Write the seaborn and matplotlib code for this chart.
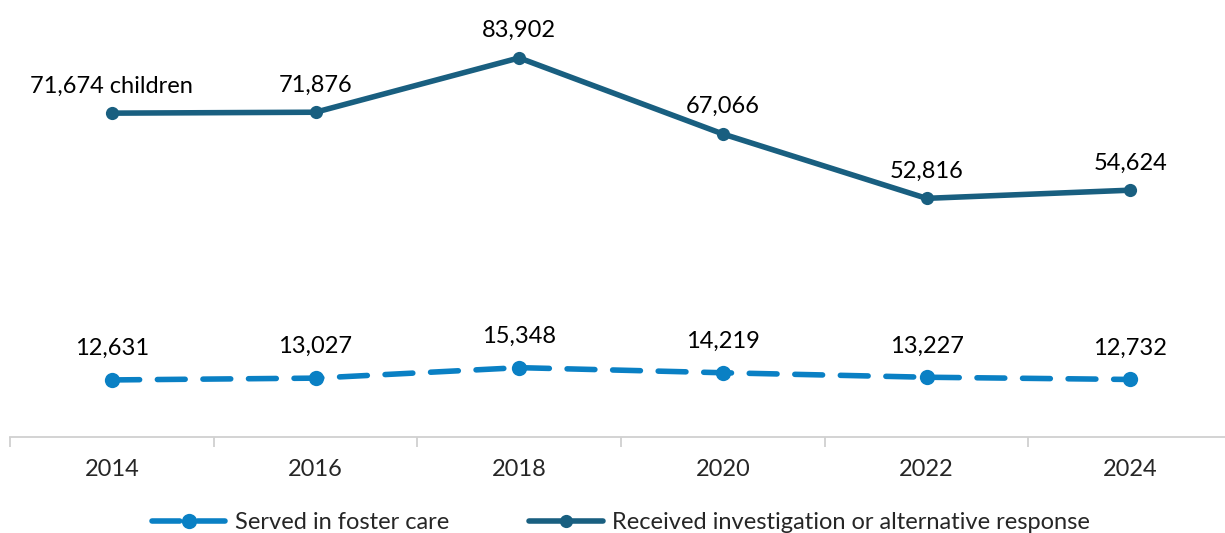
import numpy as np
import pandas as pd
import matplotlib
matplotlib.use("Agg")
import matplotlib.pyplot as plt
import seaborn as sns

years = ["2014", "2016", "2018", "2020", "2022", "2024"]
foster_care = [12631, 13027, 15348, 14219, 13227, 12732]
investigation = [71674, 71876, 83902, 67066, 52816, 54624]
series_names = ["Served in foster care", "Received investigation or alternative response"]

sns.set_style("white")
plt.rcParams["font.family"] = ["Lato", "DejaVu Sans"]

light = "#0a80c4"
dark = "#195f80"
fs = 17

pos = np.arange(len(years))
df = pd.DataFrame({
    "pos": np.concatenate([pos, pos]),
    "value": foster_care + investigation,
    "series": [series_names[0]] * len(years) + [series_names[1]] * len(years),
})

fig = plt.figure(figsize=(12.25, 5.33), dpi=100)
ax = fig.add_axes([10 / 1225, 1 - 437 / 533, 1222 / 1225, 427 / 533])

sns.lineplot(data=df[df.series == series_names[0]], x="pos", y="value", ax=ax,
             color=light, lw=4, marker="o", markersize=11, markeredgewidth=0,
             dashes=False, label=series_names[0])
ax.lines[-1].set_linestyle((0, (5, 3.2)))
ax.lines[-1].set_dash_capstyle("round")
sns.lineplot(data=df[df.series == series_names[1]], x="pos", y="value", ax=ax,
             color=dark, lw=4, marker="o", markersize=9.5, markeredgewidth=0,
             label=series_names[1])

for i, v in enumerate(foster_care):
    ax.annotate(f"{v:,}", (pos[i], v), xytext=(0, 15), textcoords="offset points",
                ha="center", va="bottom", fontsize=fs, color="black")
for i, v in enumerate(investigation):
    txt = f"{v:,} children" if i == 0 else f"{v:,}"
    ax.annotate(txt, (pos[i], v), xytext=(0, 12), textcoords="offset points",
                ha="center", va="bottom", fontsize=fs, color="black")

ax.set_xlim(-0.5, len(years) - 0.5)
ax.set_ylim(0, 94500)
ax.set_xticks(pos)
ax.set_xticklabels(years, fontsize=fs)
ax.set_xticks(np.arange(-0.5, len(years)), minor=True)
ax.tick_params(axis="x", which="major", length=0, pad=16)
ax.tick_params(axis="x", which="minor", length=7, color="#d0d0d0", width=1.3, bottom=True)
ax.set_yticks([])
ax.set_xlabel("")
ax.set_ylabel("")
for s in ["top", "right", "left"]:
    ax.spines[s].set_visible(False)
ax.spines["bottom"].set_color("#d0d0d0")
ax.spines["bottom"].set_linewidth(1.3)

leg = ax.legend(loc="center", bbox_to_anchor=(0.5, -0.2), ncol=2, frameon=False,
                fontsize=fs, handlelength=3.1, columnspacing=3.4, handletextpad=0.4)

fig.savefig("out.png", dpi=100)
